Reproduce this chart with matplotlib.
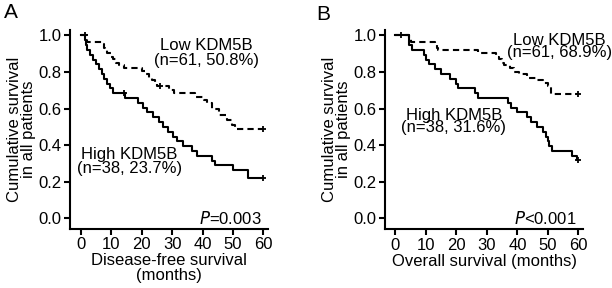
import matplotlib
matplotlib.use("Agg")
import matplotlib.pyplot as plt

plt.rcParams['font.family'] = ['Liberation Sans', 'DejaVu Sans']

# panel A - disease-free survival
dfs_high_t = [0, 1.3, 1.6, 2.0, 3.0, 4.0, 5.0, 6.0, 6.8, 7.5, 8.5, 9.5, 10.6, 14.5, 18.9, 20.5,
              21.6, 23.8, 25.5, 27.1, 28.7, 30.4, 31.5, 33.7, 36.4, 38.0, 43.0, 44.1, 50.1, 55.0, 60]
dfs_high_s = [1.0, 0.974, 0.947, 0.921, 0.895, 0.868, 0.842, 0.816, 0.789, 0.763, 0.737, 0.711, 0.684,
              0.658, 0.632, 0.605, 0.579, 0.553, 0.526, 0.5, 0.474, 0.447, 0.421, 0.395, 0.368, 0.342,
              0.316, 0.289, 0.263, 0.22, 0.22]
dfs_high_cens_t = [14.0, 60]
dfs_high_cens_s = [0.684, 0.22]

dfs_low_t = [0, 2.0, 7.0, 7.5, 8.0, 8.5, 10.0, 10.5, 11.5, 12.5, 14.0, 20.0, 21.5, 22.5, 23.5, 24.5,
             25.0, 29.0, 30.5, 37.5, 40.3, 41.5, 43.0, 45.3, 48.0, 49.6, 50.7, 60]
dfs_low_s = [1.0, 0.967, 0.951, 0.934, 0.918, 0.902, 0.885, 0.869, 0.852, 0.836, 0.820, 0.803, 0.787,
             0.770, 0.754, 0.738, 0.721, 0.700, 0.685, 0.666, 0.645, 0.630, 0.600, 0.566, 0.538,
             0.510, 0.49, 0.49]
dfs_low_cens_t = [1.3, 26.0, 60]
dfs_low_cens_s = [1.0, 0.721, 0.49]

# panel B - overall survival
os_high_t = [0, 4.5, 5.5, 9.5, 10.0, 11.0, 13.0, 15.0, 18.0, 20.0, 20.5, 26.0, 27.0, 37.0, 38.0,
             40.0, 43.0, 44.5, 46.5, 48.5, 49.5, 50.0, 50.5, 51.5, 58.0, 59.5, 60]
os_high_s = [1.0, 0.947, 0.921, 0.895, 0.868, 0.842, 0.816, 0.789, 0.763, 0.737, 0.711, 0.684, 0.658,
             0.632, 0.605, 0.579, 0.553, 0.526, 0.5, 0.474, 0.447, 0.421, 0.395, 0.368, 0.342, 0.318,
             0.318]
os_high_cens_t = [1.8, 60]
os_high_cens_s = [1.0, 0.318]

os_low_t = [0, 4.5, 5.0, 13.0, 13.5, 14.0, 27.0, 33.0, 34.0, 35.0, 35.5, 37.5, 39.0, 40.5, 43.0,
            46.5, 48.5, 50.0, 51.0, 60]
os_low_s = [1.0, 0.984, 0.967, 0.951, 0.934, 0.918, 0.902, 0.885, 0.869, 0.852, 0.836, 0.820, 0.803,
            0.787, 0.770, 0.754, 0.738, 0.721, 0.68, 0.68]
os_low_cens_t = [60]
os_low_cens_s = [0.68]

xticks = [0, 10, 20, 30, 40, 50, 60]
yticks = [0.0, 0.2, 0.4, 0.6, 0.8, 1.0]

W, H = 612, 288
FS = 12
fig = plt.figure(figsize=(W / 100, H / 100), dpi=100)


def make_ax(left, right, top, bottom, xlim, ylim):
    ax = fig.add_axes([left / W, 1 - bottom / H, (right - left) / W, (bottom - top) / H])
    ax.set_xlim(*xlim)
    ax.set_ylim(*ylim)
    for s in ['top', 'right']:
        ax.spines[s].set_visible(False)
    for s in ['left', 'bottom']:
        ax.spines[s].set_linewidth(1.5)
    ax.set_xticks(xticks)
    ax.set_yticks(yticks)
    ax.set_yticklabels(['%.1f' % v for v in yticks])
    ax.tick_params(direction='out', length=4, width=1.5, labelsize=FS, pad=2)
    return ax


def draw_km(ax, t, s, ct, cs, dashed):
    ls = (0, (3, 2)) if dashed else '-'
    ax.step(t, s, where='post', color='black', lw=1.5, linestyle=ls)
    ax.plot(ct, cs, '+', color='black', ms=5, mew=1.3)


# panel A
axA = make_ax(70, 268, 30, 228.7, (-3.6, 61.5), (-0.057, 1.03))
draw_km(axA, dfs_low_t, dfs_low_s, dfs_low_cens_t, dfs_low_cens_s, True)
draw_km(axA, dfs_high_t, dfs_high_s, dfs_high_cens_t, dfs_high_cens_s, False)
axA.text(41.2, 0.905, 'Low KDM5B\n(n=61, 50.8%)', ha='center', va='center', fontsize=FS, linespacing=0.95)
axA.text(16.0, 0.31, 'High KDM5B\n(n=38, 23.7%)', ha='center', va='center', fontsize=FS, linespacing=0.95)
axA.text(59.5, 0.0, '$P$=0.003', ha='right', va='center', fontsize=FS)
axA.set_xlabel('Disease-free survival\n(months)', fontsize=FS, linespacing=0.95, labelpad=1)
axA.set_ylabel('Cumulative survival\nin all patients', fontsize=FS, linespacing=0.9, labelpad=2)
fig.text(11 / W, 1 - 13 / H, 'A', fontsize=15, ha='center', va='center')

# panel B
axB = make_ax(385, 583, 30, 229.3, (-3.4, 61.5), (-0.06, 1.03))
draw_km(axB, os_low_t, os_low_s, os_low_cens_t, os_low_cens_s, True)
draw_km(axB, os_high_t, os_high_s, os_high_cens_t, os_high_cens_s, False)
axB.text(53.7, 0.94, 'Low KDM5B\n(n=61, 68.9%)', ha='center', va='center', fontsize=FS, linespacing=0.8)
axB.text(19.2, 0.53, 'High KDM5B\n(n=38, 31.6%)', ha='center', va='center', fontsize=FS, linespacing=0.8)
axB.text(59.5, 0.0, '$P$<0.001', ha='right', va='center', fontsize=FS)
axB.set_xlabel('Overall survival (months)', fontsize=FS, labelpad=1)
axB.set_ylabel('Cumulative survival\nin all patients', fontsize=FS, linespacing=0.9, labelpad=2)
fig.text(323 / W, 1 - 14 / H, 'B', fontsize=15, ha='center', va='center')

fig.savefig('out.png', dpi=100)
